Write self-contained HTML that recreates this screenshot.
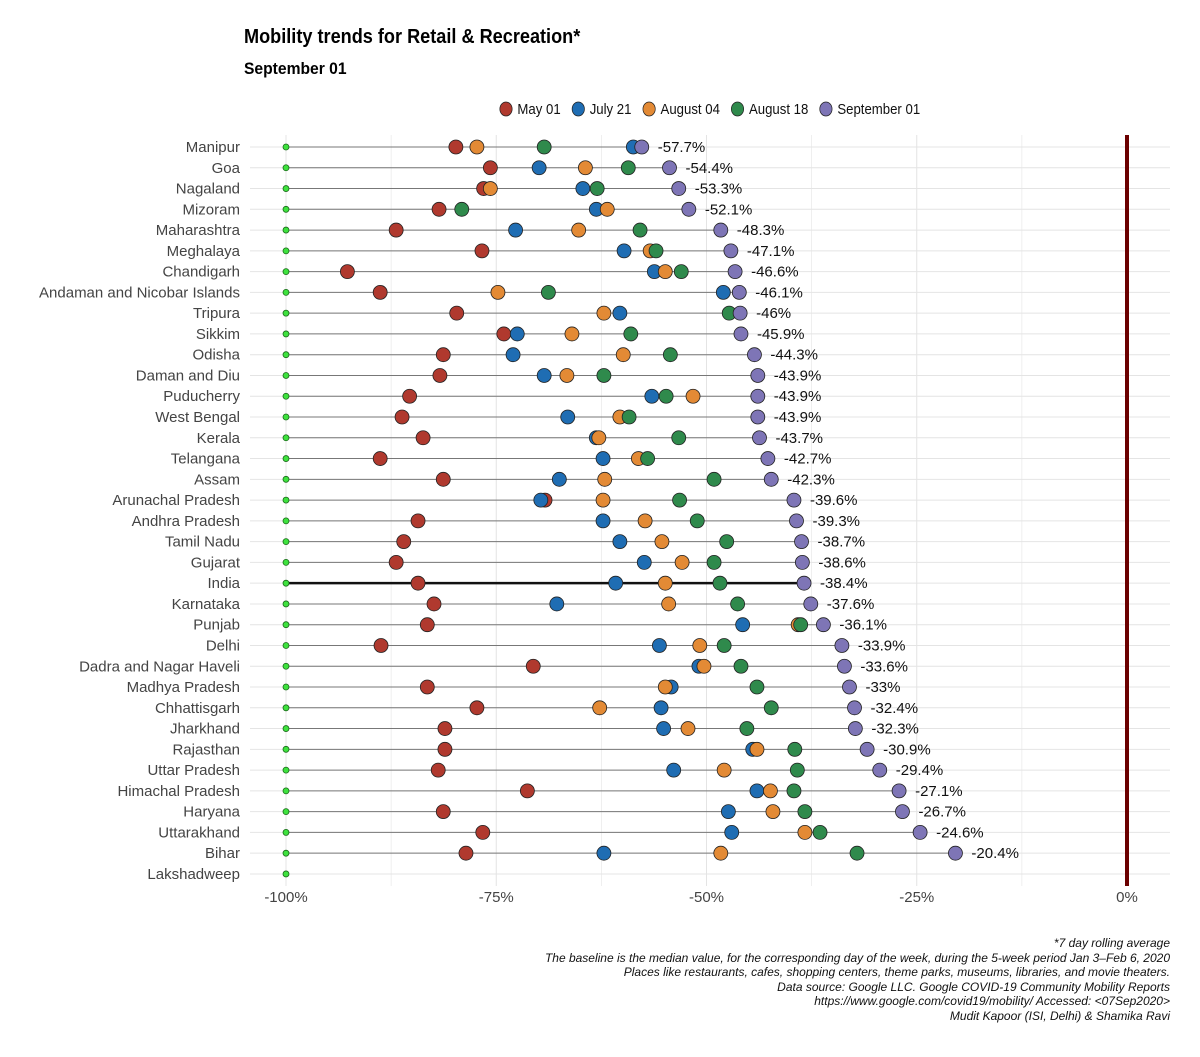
<!DOCTYPE html>
<html><head><meta charset="utf-8"><style>
body{margin:0;background:#fff;}
svg{display:block;font-family:"Liberation Sans Narrow","Liberation Sans",sans-serif;}
</style></head><body>
<svg id="chart" width="1200" height="1057"></svg>
<script>
const regions=["Manipur","Goa","Nagaland","Mizoram","Maharashtra","Meghalaya","Chandigarh","Andaman and Nicobar Islands","Tripura","Sikkim","Odisha","Daman and Diu","Puducherry","West Bengal","Kerala","Telangana","Assam","Arunachal Pradesh","Andhra Pradesh","Tamil Nadu","Gujarat","India","Karnataka","Punjab","Delhi","Dadra and Nagar Haveli","Madhya Pradesh","Chhattisgarh","Jharkhand","Rajasthan","Uttar Pradesh","Himachal Pradesh","Haryana","Uttarakhand","Bihar","Lakshadweep"];
const may01=[-79.8,-75.7,-76.5,-81.8,-86.9,-76.7,-92.7,-88.8,-79.7,-74.1,-81.3,-81.7,-85.3,-86.2,-83.7,-88.8,-81.3,-69.2,-84.3,-86.0,-86.9,-84.3,-82.4,-83.2,-88.7,-70.6,-83.2,-77.3,-81.1,-81.1,-81.9,-71.3,-81.3,-76.6,-78.6,null];
const jul21=[-58.7,-69.9,-64.7,-63.1,-72.7,-59.8,-56.2,-48.0,-60.3,-72.5,-73.0,-69.3,-56.5,-66.5,-63.1,-62.3,-67.5,-69.7,-62.3,-60.3,-57.4,-60.8,-67.8,-45.7,-55.6,-50.9,-54.2,-55.4,-55.1,-44.5,-53.9,-44.0,-47.4,-47.0,-62.2,null];
const aug04=[-77.3,-64.4,-75.7,-61.8,-65.2,-56.7,-54.9,-74.8,-62.2,-66.0,-59.9,-66.6,-51.6,-60.3,-62.8,-58.1,-62.1,-62.3,-57.3,-55.3,-52.9,-54.9,-54.5,-39.1,-50.8,-50.3,-54.9,-62.7,-52.2,-44.0,-47.9,-42.4,-42.1,-38.3,-48.3,null];
const aug18=[-69.3,-59.3,-63.0,-79.1,-57.9,-56.0,-53.0,-68.8,-47.3,-59.0,-54.3,-62.2,-54.8,-59.2,-53.3,-57.0,-49.1,-53.2,-51.1,-47.6,-49.1,-48.4,-46.3,-38.8,-47.9,-45.9,-44.0,-42.3,-45.2,-39.5,-39.2,-39.6,-38.3,-36.5,-32.1,null];
const sep01=[-57.7,-54.4,-53.3,-52.1,-48.3,-47.1,-46.6,-46.1,-46,-45.9,-44.3,-43.9,-43.9,-43.9,-43.7,-42.7,-42.3,-39.6,-39.3,-38.7,-38.6,-38.4,-37.6,-36.1,-33.9,-33.6,-33,-32.4,-32.3,-30.9,-29.4,-27.1,-26.7,-24.6,-20.4,null];
const xTicks=[-100,-75,-50,-25,0];
const xTickLabels=["-100%","-75%","-50%","-25%","0%"];
const seriesNames=["May 01","July 21","August 04","August 18","September 01"];
const seriesColors=["#b0392e","#1f6db3","#e38a35","#2f8a4c","#7e75b6"];
const seriesData=[may01,jul21,aug04,aug18,sep01];

const NS="http://www.w3.org/2000/svg";
const svg=document.getElementById('chart');
function mk(t,a,p){const e=document.createElementNS(NS,t);for(const k in a)e.setAttribute(k,a[k]);(p||svg).appendChild(e);return e;}
const x=v=>286+(v+100)*8.41;
const y=i=>147+i*20.77;
const yTop=135,yBot=886;
for(let v=-100;v<=0;v+=12.5){const g=mk('line',{x1:x(v),x2:x(v),y1:yTop,y2:yBot,stroke:'#e4e4e4','stroke-width':v%25===0?1:0.6});

}
regions.forEach((r,i)=>{const g=mk('line',{x1:250,x2:1170,y1:y(i),y2:y(i),stroke:'#e4e4e4','stroke-width':1});

});
const zl=mk('line',{x1:x(0),x2:x(0),y1:yTop,y2:yBot,stroke:'#6b0000','stroke-width':4});


xTicks.forEach((v,i)=>{const t=mk('text',{x:x(v),y:902,'text-anchor':'middle','font-size':15,fill:'#444'});t.textContent=xTickLabels[i];

});
regions.forEach((r,i)=>{
 const t=mk('text',{x:240,y:y(i)+5,'text-anchor':'end','font-size':15,fill:'#444'});t.textContent=r;
 
 
 if(sep01[i]!==null){
  const isI=r==="India";
  const l=mk('line',{x1:x(-100),x2:x(sep01[i]),y1:y(i),y2:y(i),stroke:isI?'#111':'#777','stroke-width':isI?2.5:1});
  
  
 }
 const gd=mk('circle',{cx:x(-100),cy:y(i),r:3,fill:'#3ee23e',stroke:'#1a6a1a','stroke-width':0.8});
 
 
});
seriesData.forEach((arr,s)=>{arr.forEach((v,i)=>{if(v===null)return;
 const c=mk('circle',{cx:x(v),cy:y(i),r:7,fill:seriesColors[s],stroke:'#222','stroke-width':0.8});
 
 });});
sep01.forEach((v,i)=>{if(v===null)return;const t=mk('text',{x:x(v)+16,y:y(i)+5,'font-size':15,fill:'#111'});t.textContent=v+'%';
 
 });
const lg=mk('g',{transform:'translate(506,0) scale(0.88,1) translate(-506,0)'});


let lx=506;
seriesNames.forEach((n,s)=>{const c=mk('circle',{cx:lx,cy:109,r:7,fill:seriesColors[s],stroke:'#222','stroke-width':0.8},lg);
 
 
 const t=mk('text',{x:lx+13,y:114,'font-size':15,fill:'#111'},lg);t.textContent=n;
 
 
 lx+=13+t.getComputedTextLength()+20;});
</script>
<div style="position:absolute;left:244px;top:26px;font:bold 20px 'Liberation Sans Narrow','Liberation Sans',sans-serif;transform:scaleX(0.906);transform-origin:0 0;white-space:nowrap;">Mobility trends for Retail &amp; Recreation*</div>
<div style="position:absolute;left:244px;top:59px;font:bold 17px 'Liberation Sans Narrow','Liberation Sans',sans-serif;transform:scaleX(0.92);transform-origin:0 0;white-space:nowrap;">September 01</div>
<div style="position:absolute;right:30px;top:936px;text-align:right;font:italic 12px/14.5px 'Liberation Sans Narrow','Liberation Sans',sans-serif;color:#111;">*7 day rolling average<br>The baseline is the median value, for the corresponding day of the week, during the 5-week period Jan 3–Feb 6, 2020<br>Places like restaurants, cafes, shopping centers, theme parks, museums, libraries, and movie theaters.<br>Data source: Google LLC. Google COVID-19 Community Mobility Reports<br>https://www.google.com/covid19/mobility/ Accessed: &lt;07Sep2020&gt;<br>Mudit Kapoor (ISI, Delhi) &amp; Shamika Ravi</div>
</body></html>
